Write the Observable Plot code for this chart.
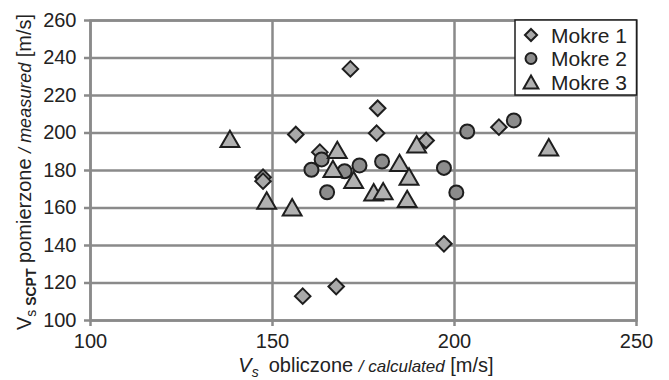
<!DOCTYPE html>
<html><head><meta charset="utf-8">
<script src="https://cdn.jsdelivr.net/npm/d3@7"></script>
<script src="https://cdn.jsdelivr.net/npm/@observablehq/plot@0.6"></script>
<style>body{margin:0;background:#fff}</style>
</head><body><div id="chart"></div>
<script>
const series = ["Mokre 1", "Mokre 2", "Mokre 3"];
const seriesFill = ["#a9a9a9", "#8c8c8c", "#b1b1b1"];

const mokre1X = [171.4, 178.9, 178.6, 156.4, 192.2, 212.2, 147.4, 147.4, 158.3, 167.5, 197.1, 163.0];
const mokre1Y = [234.2, 213.2, 199.9, 199.2, 196.0, 203.1, 176.4, 174.3, 113.0, 118.1, 140.9, 189.8];

const mokre2X = [203.5, 216.3, 180.1, 197.1, 200.5, 165.0, 160.7, 163.5, 169.8, 173.9];
const mokre2Y = [200.8, 206.7, 184.8, 181.4, 168.3, 168.4, 180.4, 185.9, 179.6, 182.7];

const mokre3X = [138.3, 225.9, 148.4, 155.4, 167.8, 166.6, 172.3, 177.8, 189.6, 184.9, 187.5, 180.4, 187.0];
const mokre3Y = [196.9, 192.4, 164.0, 160.4, 191.0, 180.9, 175.0, 168.4, 193.9, 184.1, 176.8, 169.0, 164.9];

const xTicks = [100, 150, 200, 250];
const yTicks = [100, 120, 140, 160, 180, 200, 220, 240, 260];

const data = [
  ...mokre1X.map((x, i) => ({series: series[0], x, y: mokre1Y[i]})),
  ...mokre2X.map((x, i) => ({series: series[1], x, y: mokre2Y[i]})),
  ...mokre3X.map((x, i) => ({series: series[2], x, y: mokre3Y[i]}))
];

// triangle centred on its bounding box (as in spreadsheet markers)
const triBox = {
  draw(ctx, size) {
    const s = Math.sqrt(size * 4 / Math.sqrt(3));
    const h = s * Math.sqrt(3) / 2;
    ctx.moveTo(0, -h / 2);
    ctx.lineTo(s / 2, h / 2);
    ctx.lineTo(-s / 2, h / 2);
    ctx.closePath();
  }
};
const symbols = ["diamond2", "circle", triBox];

const grid = "#8a8a8a";
const font = "'Liberation Sans', Arial, sans-serif";

const chart = Plot.plot({
  width: 669, height: 380,
  marginLeft: 90, marginRight: 33, marginTop: 20, marginBottom: 60,
  style: {fontFamily: font, fontSize: "20px", color: "#222", background: "#fff"},
  x: {domain: [100, 250], ticks: xTicks},
  y: {domain: [100, 260], ticks: yTicks},
  color: {domain: series, range: seriesFill},
  symbol: {domain: series, range: symbols},
  marks: [
    Plot.gridX(xTicks, {stroke: grid, strokeOpacity: 1, strokeWidth: 2.5}),
    Plot.gridY(yTicks, {stroke: grid, strokeOpacity: 1, strokeWidth: 2.5}),
    Plot.frame({stroke: grid, strokeWidth: 2.5}),
    Plot.axisX(xTicks, {tickSize: 6, tickPadding: 7, stroke: grid, strokeWidth: 2.5, fill: "#222", label: null, fontSize: 20}),
    Plot.axisY(yTicks, {tickSize: 6, tickPadding: 8, stroke: grid, strokeWidth: 2.5, fill: "#222", label: null, fontSize: 20}),
    Plot.dot(data, {x: "x", y: "y", symbol: "series", fill: "series", stroke: "#1e1e1e", strokeWidth: 2, r: 7})
  ]
});

const svg = d3.select(chart);

// axis titles
const xt = svg.append("text")
  .attr("x", 366).attr("y", 372)
  .attr("text-anchor", "middle")
  .attr("fill", "#222").style("font-family", font).style("font-size", "20px");
xt.append("tspan").attr("font-style", "italic").text("V");
xt.append("tspan").attr("font-style", "italic").attr("font-size", "14px").attr("dy", 5).text("s");
xt.append("tspan").attr("dy", -5).text("\u2002obliczone ");
xt.append("tspan").attr("font-style", "italic").attr("font-size", "17px").text("/ calculated");
xt.append("tspan").text(" [m/s]");

const yt = svg.append("text")
  .attr("transform", "translate(31,172) rotate(-90)")
  .attr("text-anchor", "middle")
  .attr("fill", "#222").style("font-family", font).style("font-size", "20px");
yt.append("tspan").text("V");
yt.append("tspan").attr("font-size", "14px").attr("dy", 5).text("s");
yt.append("tspan").attr("font-size", "14px").attr("font-weight", "bold").text(" SCPT");
yt.append("tspan").attr("dy", -5).text(" pomierzone ");
yt.append("tspan").attr("font-style", "italic").attr("font-size", "18px").text("/ measured");
yt.append("tspan").text(" [m/s]");

// legend
const lg = svg.append("g").attr("text-anchor", "start");
lg.append("rect").attr("x", 515).attr("y", 20).attr("width", 121.5).attr("height", 75)
  .attr("fill", "#fff").attr("stroke", "#1e1e1e").attr("stroke-width", 1.5);
const symTypes = [d3.symbolDiamond2, d3.symbolCircle, triBox];
series.forEach((s, i) => {
  const cy = 35 + i * 23.5;
  lg.append("path")
    .attr("transform", `translate(531,${cy})`)
    .attr("d", d3.symbol(symTypes[i], Math.PI * 30)())
    .attr("fill", seriesFill[i]).attr("stroke", "#1e1e1e").attr("stroke-width", 2);
  lg.append("text").attr("x", 551).attr("y", cy + 7.5)
    .attr("text-anchor", "start")
    .attr("fill", "#222").style("font-family", font).style("font-size", "21px").text(s);
});

document.getElementById("chart").append(chart);
</script>
</body></html>
